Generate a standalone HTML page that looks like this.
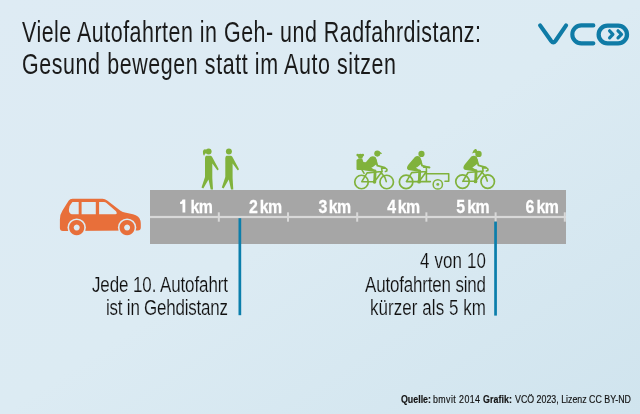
<!DOCTYPE html>
<html><head><meta charset="utf-8">
<style>
html,body{margin:0;padding:0;width:640px;height:414px;overflow:hidden;}
svg{display:block;will-change:transform;}
text{font-family:"Liberation Sans",sans-serif;}
</style></head>
<body>
<svg width="640" height="414" viewBox="0 0 640 414">
<defs>
<linearGradient id="bg" x1="0" y1="0" x2="1" y2="1">
<stop offset="0" stop-color="#deebf4"/>
<stop offset="0.5" stop-color="#dcebf3"/>
<stop offset="1" stop-color="#d0e4ee"/>
</linearGradient>
<mask id="carmask">
<rect x="0" y="0" width="640" height="414" fill="#fff"/>
<circle cx="76.7" cy="227.6" r="9.2" fill="#000"/>
<circle cx="127.1" cy="227.6" r="9.2" fill="#000"/>
</mask>
</defs>
<rect x="0" y="0" width="640" height="414" fill="url(#bg)"/>

<!-- Title -->
<g fill="#1a1a1a">
<text font-size="29" font-weight="normal" transform="translate(22.00,41.90) scale(0.740,1)" textLength="620.27" lengthAdjust="spacing">Viele Autofahrten in Geh- und Radfahrdistanz:</text>
<text font-size="29" font-weight="normal" transform="translate(22.00,74.10) scale(0.740,1)" textLength="505.41" lengthAdjust="spacing">Gesund bewegen statt im Auto sitzen</text>
</g>

<!-- Logo -->
<g fill="none" stroke="#0f7ba6" stroke-width="4.1" stroke-linecap="round" stroke-linejoin="round">
<path d="M540.1,25.4 L551.2,41 Q553.3,43.8 555.4,41 L566.1,25.4"/>
<path d="M593.35,25.4 L581.3,25.4 A8.975,8.975 0 0 0 581.3,43.35 L593.35,43.35"/>
<path d="M607.55,25.55 L618.1,25.55 A8.9,8.9 0 0 1 618.1,43.35 L607.55,43.35 A8.9,8.9 0 0 1 607.55,25.55 Z" stroke-width="4.3"/>
<path d="M609.6,30.8 L612.9,34.3 L609.6,37.8 M618,30.8 L621.5,34.3 L618,37.8" stroke-width="3.2"/>
</g>
<!-- Road -->
<rect x="150" y="190" width="416" height="54" fill="#a6a6a6"/>
<rect x="150" y="215.9" width="416" height="2.2" fill="#d8d8d8"/>
<g fill="#d8d8d8">
<rect x="217.8" y="212.3" width="2" height="9.4"/>
<rect x="287" y="212.3" width="2" height="9.4"/>
<rect x="356.2" y="212.3" width="2" height="9.4"/>
<rect x="425.4" y="212.3" width="2" height="9.4"/>
<rect x="494.6" y="212.3" width="2" height="9.4"/>
<rect x="563.8" y="212.3" width="2" height="9.4"/>
</g>
<g fill="#ffffff" stroke="#ffffff" stroke-width="0.25" font-size="18.5" font-weight="bold">
<path stroke="none" d="M182.5,199.4 L185.3,199.4 L185.3,212.6 L182.5,212.6 L182.5,203.4 Q181.6,204 180.1,204.1 L180.1,202 Q182.1,201.7 182.5,199.4 Z"/>
<text transform="translate(190.55,212.6) scale(0.86,1)" letter-spacing="-0.7">km</text>
<text transform="translate(248.90,212.6) scale(0.86,1)">2</text>
<text transform="translate(259.85,212.6) scale(0.86,1)" letter-spacing="-0.7">km</text>
<text transform="translate(318.45,212.6) scale(0.86,1)">3</text>
<text transform="translate(328.85,212.6) scale(0.86,1)" letter-spacing="-0.7">km</text>
<text transform="translate(387.20,212.6) scale(0.86,1)">4</text>
<text transform="translate(397.85,212.6) scale(0.86,1)" letter-spacing="-0.7">km</text>
<text transform="translate(456.30,212.6) scale(0.86,1)">5</text>
<text transform="translate(467.15,212.6) scale(0.86,1)" letter-spacing="-0.7">km</text>
<text transform="translate(525.50,212.6) scale(0.86,1)">6</text>
<text transform="translate(536.50,212.6) scale(0.86,1)" letter-spacing="-0.7">km</text>
</g>

<!-- Blue pointer lines -->
<rect x="238.5" y="218.2" width="2.7" height="97" fill="#0b7eab"/>
<rect x="494.2" y="221.6" width="2.7" height="94" fill="#0b7eab"/>

<!-- Labels -->
<g fill="#111111" stroke="#dce9f2" stroke-width="0.16">
<text font-size="21.2" font-weight="normal" transform="translate(92.00,291.90) scale(0.800,1)" textLength="170.00" lengthAdjust="spacing">Jede 10. Autofahrt</text>
<text font-size="21.2" font-weight="normal" transform="translate(106.00,314.50) scale(0.800,1)" textLength="152.50" lengthAdjust="spacing">ist in Gehdistanz</text>
<text font-size="21.2" font-weight="normal" transform="translate(420.00,268.40) scale(0.800,1)" textLength="82.50" lengthAdjust="spacing">4 von 10</text>
<text font-size="21.2" font-weight="normal" transform="translate(365.00,291.80) scale(0.800,1)" textLength="151.25" lengthAdjust="spacing">Autofahrten sind</text>
<text font-size="21.2" font-weight="normal" transform="translate(370.00,314.60) scale(0.800,1)" textLength="145.00" lengthAdjust="spacing">kürzer als 5 km</text>
</g>

<!-- Source -->
<g fill="#141414" stroke="#141414" stroke-width="0.18">
<text font-size="10.8" font-weight="bold" transform="translate(401.00,403.40) scale(0.820,1)" textLength="36.59" lengthAdjust="spacing">Quelle:</text>
<text font-size="10.8" font-weight="normal" transform="translate(433.00,403.40) scale(0.820,1)" textLength="57.32" lengthAdjust="spacing">bmvit 2014</text>
<text font-size="10.8" font-weight="bold" transform="translate(483.00,403.40) scale(0.820,1)" textLength="35.37" lengthAdjust="spacing">Grafik:</text>
<text font-size="10.8" font-weight="normal" transform="translate(515.00,403.40) scale(0.820,1)" textLength="141.46" lengthAdjust="spacing">VCÖ 2023, Lizenz CC BY-ND</text>
</g>

<!-- Car -->
<g fill="#e86f3a">
<path mask="url(#carmask)" fill-rule="evenodd" d="M72.5,198.8 L102.5,198.8 Q105,198.8 107.2,200.6 L120.5,210.8 Q122.5,212.2 126,212.8 L133,214.3 Q139,215.8 140.4,220.5 Q140.8,222 140.8,224 L140.8,227.5 Q140.8,230.5 137.8,230.5 L62.8,230.9 Q59.9,230.9 59.9,228 L59.9,219.5 Q60,214 62.5,210.4 L68.6,200.8 Q70,198.8 72.5,198.8 Z
M72.4,202 L78.7,202 L78.7,214.3 L71.8,214.3 Q68.9,213.5 68.9,209.7 Q69,205.5 72.4,202 Z
M81.6,202 L95.8,202 L95.8,214.3 L81.6,214.3 Z
M99.1,202 L104,202 Q105.3,202 106.5,203 L116,211.3 Q117.8,214.3 115.3,214.3 L99.1,214.3 Z"/>
<path fill-rule="evenodd" d="M76.7,220 A7.6,7.6 0 1 1 76.69,220 Z M76.7,224.6 A3,3 0 1 0 76.71,224.6 Z"/>
<path fill-rule="evenodd" d="M127.1,220 A7.6,7.6 0 1 1 127.09,220 Z M127.1,224.6 A3,3 0 1 0 127.11,224.6 Z"/>
</g>

<!-- Pedestrians -->
<g fill="#80b23c" id="walkers">
<g id="man">
<circle cx="228.9" cy="151.5" r="3"/>
<path d="M226.5,155.8 L231,155.8 Q232.3,156 233,158 L238.8,168.8 Q239,170.5 237.6,170.3 L232.6,163.5 L232.6,178 L233.3,189.5 L231,189.5 L228.8,179.5 L223.6,188.5 L221.8,187.5 L225.3,177 L225.3,158 Q225.5,156 226.5,155.8 Z"/>
</g>
<g transform="translate(-20.3,0)">
<circle cx="228.9" cy="151.5" r="3"/>
<path d="M226.5,155.8 L231,155.8 Q232.3,156 233,158 L238.8,168.8 Q239,170.5 237.6,170.3 L232.6,163.5 L232.6,178 L233.3,189.5 L231,189.5 L228.8,179.5 L223.6,188.5 L221.8,187.5 L225.3,177 L225.3,158 Q225.5,156 226.5,155.8 Z"/>
<path d="M227,150.2 Q225.4,148.6 224,149.8 Q222.8,151.2 223.3,153.4 Q223.6,155.2 224.4,155.8 Q225,153.6 226.8,152.8 Z"/>
</g>
</g>

<!-- Cyclists -->
<g fill="none" stroke="#80b23c" stroke-width="1.6" stroke-linecap="round" stroke-linejoin="round">
<g transform="translate(361.5,182)">
<circle cx="0" cy="0" r="6.75" stroke-width="1.7"/>
<circle cx="25.2" cy="0" r="6.75" stroke-width="1.7"/>
<path d="M0.3,-0.3 L12.9,-0.3 L20.6,-10.5 L5.6,-9.1 L0.3,-0.3 M20.2,-8.6 Q24.2,-4.6 24.8,-0.4 M20.6,-10.5 L20.1,-14 L24,-13.7 Q26.2,-12.8 25.2,-11 L23.9,-10.6"/>

<path d="M8.8,-25 Q11.3,-26.6 13.9,-25 Q14.6,-24.2 15,-22.5 L15.5,-20 Q15.6,-18.6 14.6,-17.6 L11.4,-15 L9.8,-14.2 L13.6,-11.9 L13.2,-10.2 L3.4,-11.6 Q0.6,-12.2 0.9,-14.4 Q1.2,-16 2.4,-17.4 Z" fill="#80b23c" stroke="none"/>
<path d="M14.2,-22 L15.9,-16.3 L23.3,-14.3" stroke-width="1.9"/>
<path d="M13.6,-11 L13.2,-1" stroke-width="2.8"/>
<circle cx="13" cy="-0.2" r="1.85" fill="#80b23c" stroke="none"/>

<circle cx="15.8" cy="-28.4" r="3.05" fill="#80b23c" stroke="none"/>
<path d="M17.6,-30.6 Q20.6,-29.6 20.5,-27.9 L17.8,-28.3 Z" fill="#80b23c" stroke="none"/>
<path d="M-5,-22 L-2.9,-23.6 L0.7,-23.6 L1.9,-19.9 L5.6,-19.6 L3.4,-12.1 L-4.1,-12.1 Q-5,-12.1 -5,-13.3 Z" fill="#80b23c" stroke="none"/>
<circle cx="-1.1" cy="-25.7" r="2.5" fill="#80b23c" stroke="none"/>
<circle cx="-3.8" cy="-26.9" r="1.3" fill="#80b23c" stroke="none"/>
<circle cx="1.3" cy="-26.9" r="1.3" fill="#80b23c" stroke="none"/>
<path d="M0.3,-12.5 L2.6,-8.6" stroke-width="1.5"/>
</g>
<g transform="translate(406.1,181.9)">
<circle cx="0" cy="0" r="6.75" stroke-width="1.7"/>
<path d="M0.3,-0.3 L24.3,-0.3 M12.9,-0.3 L20.4,-10.4 L5.6,-9.3 L0.3,-0.3 M20.3,-14.6 L20.3,-0.6 M17.5,-14.6 L23.4,-14.6 M20.3,-8.1 L42.6,-8.1 L42.6,-0.6 L38.9,-0.6"/>
<circle cx="31.7" cy="2.5" r="4.65" stroke-width="1.5"/>
<circle cx="31.7" cy="2.5" r="1.45" fill="#80b23c" stroke="none"/>
<path d="M8.8,-25 Q11.3,-26.6 13.9,-25 Q14.6,-24.2 15,-22.5 L15.5,-20 Q15.6,-18.6 14.6,-17.6 L11.4,-15 L9.8,-14.2 L13.6,-11.9 L13.2,-10.2 L3.4,-11.6 Q0.6,-12.2 0.9,-14.4 Q1.2,-16 2.4,-17.4 Z" fill="#80b23c" stroke="none"/>
<path d="M14.2,-22 L15.9,-16.3 L23.3,-14.3" stroke-width="1.9"/>
<path d="M13.6,-11 L13.2,-1" stroke-width="2.8"/>
<circle cx="13" cy="-0.2" r="1.85" fill="#80b23c" stroke="none"/>

<circle cx="15.4" cy="-28" r="3.1" fill="#80b23c" stroke="none"/>
</g>
<g transform="translate(462.5,181.6)">
<circle cx="0" cy="0" r="6.75" stroke-width="1.7"/>
<circle cx="25.2" cy="0" r="6.75" stroke-width="1.7"/>
<path d="M0.3,-0.3 L12.9,-0.3 L20.6,-10.5 L5.6,-9.1 L0.3,-0.3 M20.2,-8.6 Q24.2,-4.6 24.8,-0.4 M20.6,-10.5 L20.1,-14 L24,-13.7 Q26.2,-12.8 25.2,-11 L23.9,-10.6"/>

<path d="M8.8,-25 Q11.3,-26.6 13.9,-25 Q14.6,-24.2 15,-22.5 L15.5,-20 Q15.6,-18.6 14.6,-17.6 L11.4,-15 L9.8,-14.2 L13.6,-11.9 L13.2,-10.2 L3.4,-11.6 Q0.6,-12.2 0.9,-14.4 Q1.2,-16 2.4,-17.4 Z" fill="#80b23c" stroke="none"/>
<path d="M14.2,-22 L15.9,-16.3 L23.3,-14.3" stroke-width="1.9"/>
<path d="M13.6,-11 L13.2,-1" stroke-width="2.8"/>
<circle cx="13" cy="-0.2" r="1.85" fill="#80b23c" stroke="none"/>

<circle cx="16" cy="-27.7" r="3.2" fill="#80b23c" stroke="none"/>
<path d="M14.8,-30.4 Q14.2,-33.2 12.6,-32.6 Q10.8,-31.8 9.6,-28.2 Q11.8,-29.2 13.9,-28.4 Z" fill="#80b23c" stroke="none"/>
</g>
</g>
</svg>
</body></html>
